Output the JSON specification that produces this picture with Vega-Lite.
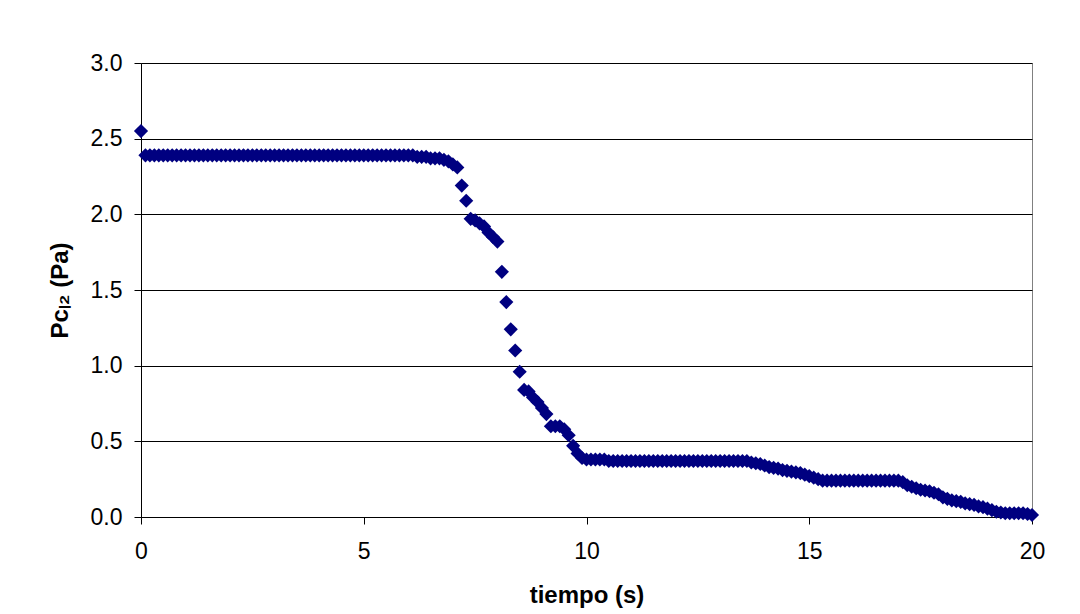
{
  "$schema": "https://vega.github.io/schema/vega-lite/v6.json",
  "width": 891,
  "height": 454,
  "autosize": {"type": "none"},
  "padding": {"left": 141, "top": 63, "right": 48, "bottom": 97},
  "background": "white",
  "config": {
    "font": "Liberation Sans",
    "view": {"stroke": "#808080", "strokeWidth": 1}
  },
  "data": {
    "values": [
      {"t": 0.0, "p": 2.55},
      {"t": 0.1, "p": 2.39}, {"t": 0.2, "p": 2.39}, {"t": 0.3, "p": 2.39}, {"t": 0.4, "p": 2.39}, {"t": 0.5, "p": 2.39},
      {"t": 0.6, "p": 2.39}, {"t": 0.7, "p": 2.39}, {"t": 0.8, "p": 2.39}, {"t": 0.9, "p": 2.39}, {"t": 1.0, "p": 2.39},
      {"t": 1.1, "p": 2.39}, {"t": 1.2, "p": 2.39}, {"t": 1.3, "p": 2.39}, {"t": 1.4, "p": 2.39}, {"t": 1.5, "p": 2.39},
      {"t": 1.6, "p": 2.39}, {"t": 1.7, "p": 2.39}, {"t": 1.8, "p": 2.39}, {"t": 1.9, "p": 2.39}, {"t": 2.0, "p": 2.39},
      {"t": 2.1, "p": 2.39}, {"t": 2.2, "p": 2.39}, {"t": 2.3, "p": 2.39}, {"t": 2.4, "p": 2.39}, {"t": 2.5, "p": 2.39},
      {"t": 2.6, "p": 2.39}, {"t": 2.7, "p": 2.39}, {"t": 2.8, "p": 2.39}, {"t": 2.9, "p": 2.39}, {"t": 3.0, "p": 2.39},
      {"t": 3.1, "p": 2.39}, {"t": 3.2, "p": 2.39}, {"t": 3.3, "p": 2.39}, {"t": 3.4, "p": 2.39}, {"t": 3.5, "p": 2.39},
      {"t": 3.6, "p": 2.39}, {"t": 3.7, "p": 2.39}, {"t": 3.8, "p": 2.39}, {"t": 3.9, "p": 2.39}, {"t": 4.0, "p": 2.39},
      {"t": 4.1, "p": 2.39}, {"t": 4.2, "p": 2.39}, {"t": 4.3, "p": 2.39}, {"t": 4.4, "p": 2.39}, {"t": 4.5, "p": 2.39},
      {"t": 4.6, "p": 2.39}, {"t": 4.7, "p": 2.39}, {"t": 4.8, "p": 2.39}, {"t": 4.9, "p": 2.39}, {"t": 5.0, "p": 2.39},
      {"t": 5.1, "p": 2.39}, {"t": 5.2, "p": 2.39}, {"t": 5.3, "p": 2.39}, {"t": 5.4, "p": 2.39}, {"t": 5.5, "p": 2.39},
      {"t": 5.6, "p": 2.39}, {"t": 5.7, "p": 2.39}, {"t": 5.8, "p": 2.39}, {"t": 5.9, "p": 2.39}, {"t": 6.0, "p": 2.39},
      {"t": 6.1, "p": 2.39}, {"t": 6.2, "p": 2.38}, {"t": 6.3, "p": 2.38}, {"t": 6.4, "p": 2.38}, {"t": 6.5, "p": 2.37},
      {"t": 6.6, "p": 2.37}, {"t": 6.7, "p": 2.37}, {"t": 6.8, "p": 2.36}, {"t": 6.9, "p": 2.35}, {"t": 7.0, "p": 2.33},
      {"t": 7.1, "p": 2.31}, {"t": 7.2, "p": 2.19}, {"t": 7.3, "p": 2.09}, {"t": 7.4, "p": 1.97}, {"t": 7.5, "p": 1.96},
      {"t": 7.6, "p": 1.94}, {"t": 7.7, "p": 1.92}, {"t": 7.8, "p": 1.88}, {"t": 7.9, "p": 1.85}, {"t": 8.0, "p": 1.82},
      {"t": 8.1, "p": 1.62}, {"t": 8.2, "p": 1.42}, {"t": 8.3, "p": 1.24}, {"t": 8.4, "p": 1.10}, {"t": 8.5, "p": 0.96},
      {"t": 8.6, "p": 0.84}, {"t": 8.7, "p": 0.83}, {"t": 8.8, "p": 0.79}, {"t": 8.9, "p": 0.76}, {"t": 9.0, "p": 0.72},
      {"t": 9.1, "p": 0.68}, {"t": 9.2, "p": 0.60}, {"t": 9.3, "p": 0.60}, {"t": 9.4, "p": 0.60}, {"t": 9.5, "p": 0.58},
      {"t": 9.6, "p": 0.54}, {"t": 9.7, "p": 0.47}, {"t": 9.8, "p": 0.42}, {"t": 9.9, "p": 0.39}, {"t": 10.0, "p": 0.38},
      {"t": 10.1, "p": 0.38}, {"t": 10.2, "p": 0.38}, {"t": 10.3, "p": 0.38}, {"t": 10.4, "p": 0.38}, {"t": 10.5, "p": 0.37},
      {"t": 10.6, "p": 0.37}, {"t": 10.7, "p": 0.37}, {"t": 10.8, "p": 0.37}, {"t": 10.9, "p": 0.37}, {"t": 11.0, "p": 0.37},
      {"t": 11.1, "p": 0.37}, {"t": 11.2, "p": 0.37}, {"t": 11.3, "p": 0.37}, {"t": 11.4, "p": 0.37}, {"t": 11.5, "p": 0.37},
      {"t": 11.6, "p": 0.37}, {"t": 11.7, "p": 0.37}, {"t": 11.8, "p": 0.37}, {"t": 11.9, "p": 0.37}, {"t": 12.0, "p": 0.37},
      {"t": 12.1, "p": 0.37}, {"t": 12.2, "p": 0.37}, {"t": 12.3, "p": 0.37}, {"t": 12.4, "p": 0.37}, {"t": 12.5, "p": 0.37},
      {"t": 12.6, "p": 0.37}, {"t": 12.7, "p": 0.37}, {"t": 12.8, "p": 0.37}, {"t": 12.9, "p": 0.37}, {"t": 13.0, "p": 0.37},
      {"t": 13.1, "p": 0.37}, {"t": 13.2, "p": 0.37}, {"t": 13.3, "p": 0.37}, {"t": 13.4, "p": 0.37}, {"t": 13.5, "p": 0.37},
      {"t": 13.6, "p": 0.37}, {"t": 13.7, "p": 0.36}, {"t": 13.8, "p": 0.355}, {"t": 13.9, "p": 0.35}, {"t": 14.0, "p": 0.34},
      {"t": 14.1, "p": 0.33}, {"t": 14.2, "p": 0.325}, {"t": 14.3, "p": 0.32}, {"t": 14.4, "p": 0.31}, {"t": 14.5, "p": 0.305},
      {"t": 14.6, "p": 0.30}, {"t": 14.7, "p": 0.295}, {"t": 14.8, "p": 0.29}, {"t": 14.9, "p": 0.28}, {"t": 15.0, "p": 0.27},
      {"t": 15.1, "p": 0.26}, {"t": 15.2, "p": 0.25}, {"t": 15.3, "p": 0.24}, {"t": 15.4, "p": 0.24}, {"t": 15.5, "p": 0.24},
      {"t": 15.6, "p": 0.24}, {"t": 15.7, "p": 0.24}, {"t": 15.8, "p": 0.24}, {"t": 15.9, "p": 0.24}, {"t": 16.0, "p": 0.24},
      {"t": 16.1, "p": 0.24}, {"t": 16.2, "p": 0.24}, {"t": 16.3, "p": 0.24}, {"t": 16.4, "p": 0.24}, {"t": 16.5, "p": 0.24},
      {"t": 16.6, "p": 0.24}, {"t": 16.7, "p": 0.24}, {"t": 16.8, "p": 0.24}, {"t": 16.9, "p": 0.24}, {"t": 17.0, "p": 0.24},
      {"t": 17.1, "p": 0.23}, {"t": 17.2, "p": 0.21}, {"t": 17.3, "p": 0.20}, {"t": 17.4, "p": 0.19}, {"t": 17.5, "p": 0.18},
      {"t": 17.6, "p": 0.175}, {"t": 17.7, "p": 0.17}, {"t": 17.8, "p": 0.16}, {"t": 17.9, "p": 0.15}, {"t": 18.0, "p": 0.13},
      {"t": 18.1, "p": 0.12}, {"t": 18.2, "p": 0.11}, {"t": 18.3, "p": 0.105}, {"t": 18.4, "p": 0.10}, {"t": 18.5, "p": 0.09},
      {"t": 18.6, "p": 0.085}, {"t": 18.7, "p": 0.08}, {"t": 18.8, "p": 0.07}, {"t": 18.9, "p": 0.065}, {"t": 19.0, "p": 0.055},
      {"t": 19.1, "p": 0.045}, {"t": 19.2, "p": 0.035}, {"t": 19.3, "p": 0.03}, {"t": 19.4, "p": 0.025}, {"t": 19.5, "p": 0.025},
      {"t": 19.6, "p": 0.025}, {"t": 19.7, "p": 0.025}, {"t": 19.8, "p": 0.025}, {"t": 19.9, "p": 0.02}, {"t": 20.0, "p": 0.013}
    ]
  },
  "mark": {"type": "point", "shape": "diamond", "filled": true, "color": "#000080", "opacity": 1, "size": 200},
  "encoding": {
    "x": {
      "field": "t",
      "type": "quantitative",
      "scale": {"domain": [0, 20], "nice": false, "zero": false},
      "axis": {
        "title": "tiempo (s)",
        "titleFont": "Liberation Sans",
        "titleFontSize": 24,
        "titleFontWeight": "bold",
        "titleColor": "#000000",
        "titlePadding": 20,
        "values": [0, 5, 10, 15, 20],
        "format": "d",
        "grid": false,
        "labelFont": "Liberation Sans",
        "labelFontSize": 23,
        "labelColor": "#000000",
        "labelPadding": 16,
        "labelFlush": false,
        "tickSize": 7,
        "tickColor": "#000000",
        "domainColor": "#000000"
      }
    },
    "y": {
      "field": "p",
      "type": "quantitative",
      "scale": {"domain": [0, 3], "nice": false},
      "axis": {
        "title": "Pᴄₗ₂ (Pa)",
        "titleFont": "Liberation Sans",
        "titleFontSize": 24,
        "titleFontWeight": "bold",
        "titleColor": "#000000",
        "titlePadding": 18,
        "values": [0, 0.5, 1, 1.5, 2, 2.5, 3],
        "format": ".1f",
        "grid": true,
        "gridColor": "#000000",
        "gridWidth": 1,
        "labelFont": "Liberation Sans",
        "labelFontSize": 23,
        "labelColor": "#000000",
        "labelPadding": 12,
        "labelFlush": false,
        "tickSize": 7,
        "tickColor": "#000000",
        "domainColor": "#000000"
      }
    }
  }
}
